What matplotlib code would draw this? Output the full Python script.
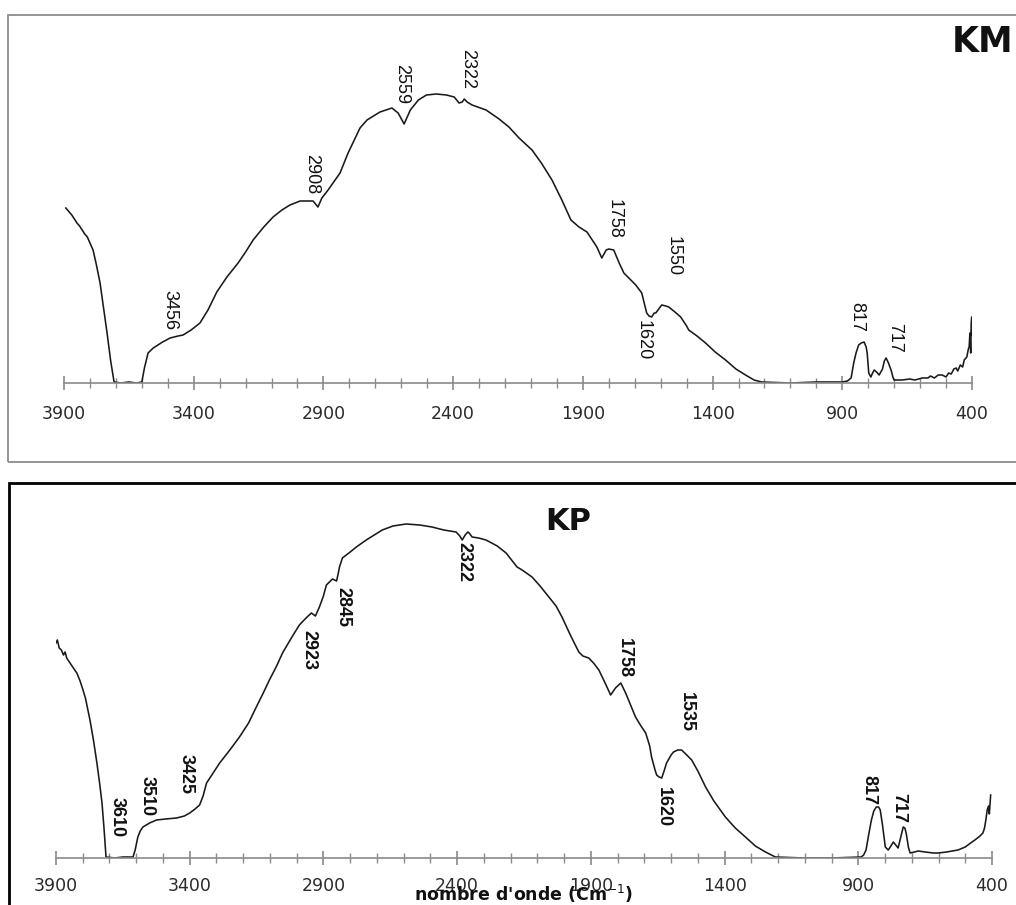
import matplotlib
matplotlib.use("Agg")
import matplotlib.pyplot as plt
from matplotlib.patches import Rectangle
from matplotlib.ticker import MultipleLocator

# ---- KM spectrum (wavenumber in cm-1, transmittance in arbitrary units) ----
km_wavenumber = [
    3893, 3880, 3870, 3860, 3850, 3840, 3830, 3820, 3810, 3800, 3788, 3775, 3761,
    3748, 3734, 3720, 3707, 3680, 3650, 3620, 3600, 3590, 3576, 3556, 3520, 3491,
    3460, 3441, 3410, 3376, 3345, 3311, 3272, 3229, 3200, 3171, 3130, 3094, 3060,
    3029, 2990, 2940, 2921, 2906, 2882, 2855, 2836, 2805, 2759, 2732, 2682, 2636,
    2612, 2589, 2565, 2534, 2503, 2465, 2426, 2396, 2377, 2365, 2357, 2346, 2327,
    2273, 2223, 2185, 2146, 2096, 2060, 2019, 1981, 1946, 1915, 1884, 1846, 1827,
    1810, 1800, 1781, 1760, 1742, 1715, 1696, 1673, 1654, 1645, 1635, 1625, 1619,
    1596, 1580, 1569, 1545, 1523, 1500, 1492, 1460, 1427, 1390, 1350, 1310, 1273,
    1240, 1211, 1100, 1000, 900, 880, 866, 856, 847, 837, 827, 816, 808, 804, 798,
    790, 783, 777, 768, 758, 745, 738, 731, 722, 712, 705, 700, 669, 640, 620, 592,
    570, 560, 545, 530, 515, 500, 490, 480, 470, 461, 455, 445, 436, 430, 420, 414,
    411, 408, 405, 403, 401, 400,
]
km_signal = [
    175, 171, 168, 164, 160, 157, 153, 149, 146, 140, 133, 118, 100,
    76, 50, 22, 1, 0, 1, 0, 1, 15, 30, 35, 41, 45,
    47, 48, 53, 60, 73, 91, 106, 120, 131, 143, 156, 166, 173,
    178, 182, 182, 176, 185, 193, 203, 210, 230, 255, 263, 271, 275,
    270, 259, 273, 283, 288, 289, 288, 286, 280, 281, 284, 281, 278,
    273, 264, 256, 245, 233, 220, 203, 183, 163, 156, 151, 136, 125,
    133, 134, 133, 120, 110, 103, 98, 90, 70, 67, 66, 70, 70,
    78, 77, 76, 71, 66, 57, 53, 47, 40, 31, 23, 14, 8,
    3, 1, 0, 1, 1, 2, 5, 20, 30, 38, 40, 41, 36, 30, 10,
    6, 10, 13, 11, 8, 14, 22, 25, 20, 13, 6, 3, 3, 4, 3, 5,
    5, 7, 5, 8, 8, 6, 10, 9, 14, 15, 12, 18, 16, 23, 26, 34,
    36, 50, 30, 60, 66, 48,
]
km_peaks = ["3456", "2908", "2559", "2322", "1758", "1550", "1620", "817", "717"]
km_peak_pos = [(3491, 73), (2944, 209), (2597, 299), (2346, 314), (1780, 164),
               (1552, 127), (1668, 43), (843, 66), (700, 45)]

# ---- KP spectrum ----
kp_wavenumber = [
    3900, 3895, 3888, 3880, 3872, 3866, 3860, 3850, 3840, 3830, 3822, 3810, 3799,
    3790, 3773, 3760, 3747, 3737, 3728, 3720, 3713, 3680, 3650, 3612, 3604, 3594,
    3585, 3575, 3550, 3524, 3490, 3449, 3420, 3400, 3380, 3363, 3350, 3337, 3310,
    3288, 3250, 3214, 3180, 3151, 3125, 3102, 3075, 3053, 3020, 2990, 2965, 2945,
    2930, 2915, 2900, 2889, 2866, 2851, 2845, 2840, 2829, 2800, 2777, 2740, 2680,
    2640, 2591, 2540, 2494, 2450, 2404, 2390, 2381, 2370, 2360, 2355, 2344, 2320,
    2292, 2250, 2217, 2176, 2157, 2120, 2090, 2057, 2030, 2008, 1975, 1945, 1930,
    1908, 1890, 1870, 1845, 1826, 1808, 1788, 1770, 1750, 1733, 1715, 1695, 1680,
    1673, 1660, 1654, 1645, 1635, 1625, 1617, 1600, 1591, 1575, 1561, 1545, 1523,
    1500, 1471, 1440, 1397, 1360, 1322, 1285, 1247, 1210, 1100, 1000, 889, 880,
    871, 860, 851, 842, 833, 824, 818, 810, 799, 788, 778, 769, 760, 751, 742,
    732, 726, 721, 712, 706, 690, 676, 650, 620, 601, 570, 527, 500, 480, 464,
    445, 434, 428, 423, 418, 413, 410, 407, 405,
]
kp_signal = [
    215, 218, 210, 208, 203, 206, 200, 196, 192, 188, 185, 177, 168,
    160, 138, 118, 95, 75, 55, 28, 1, 0, 1, 1, 8, 21,
    27, 31, 35, 38, 39, 40, 42, 45, 49, 53, 62, 75, 86,
    95, 108, 121, 135, 151, 165, 178, 192, 205, 220, 233, 240, 245,
    242, 251, 262, 273, 279, 277, 284, 291, 300, 306, 311, 318, 328,
    332, 334, 333, 331, 328, 326, 322, 318, 323, 326, 325, 321, 320,
    318, 312, 305, 291, 288, 281, 272, 261, 252, 241, 222, 206, 202,
    200, 195, 188, 174, 163, 170, 175, 165, 152, 141, 133, 125, 112,
    101, 88, 83, 81, 80, 88, 95, 103, 106, 108, 108, 104, 98,
    87, 71, 57, 41, 30, 21, 12, 6, 1, 0, 0, 1, 3,
    8, 25, 38, 47, 51, 51, 48, 34, 11, 8, 12, 16, 13, 10, 20,
    31, 30, 25, 10, 5, 6, 7, 6, 5, 5, 6, 8, 11, 15, 18,
    22, 25, 30, 38, 48, 52, 44, 55, 63,
]
kp_peaks = ["3610", "3510", "3425", "2923", "2845", "2322", "1758", "1535",
            "1620", "817", "717"]
kp_peak_pos = [(3672, 41), (3560, 62), (3414, 84), (2954, 208), (2827, 251),
               (2375, 296), (1776, 200), (1541, 146), (1627, 51), (860, 68),
               (748, 50)]

tick_values = [3900, 3400, 2900, 2400, 1900, 1400, 900, 400]

W, H = 1016, 905
fig = plt.figure(figsize=(W / 100, H / 100), dpi=100)
fig.patch.set_facecolor("white")


def px_rect(x0, y0, x1, y1):
    """Figure-fraction rectangle from pixel corners (origin top-left)."""
    return [x0 / W, 1 - y1 / H, (x1 - x0) / W, (y1 - y0) / H]


# panel frames
l, b, w, h = px_rect(8, 15, 1040, 462)
fig.patches.append(Rectangle((l, b), w, h, transform=fig.transFigure,
                             fill=False, edgecolor="#8c8c8c", linewidth=1.3,
                             clip_on=False))
l, b, w, h = px_rect(9, 483, 1040, 930)
fig.patches.append(Rectangle((l, b), w, h, transform=fig.transFigure,
                             fill=False, edgecolor="black", linewidth=2.0,
                             clip_on=False))


def spectrum_axes(rect, ytop, wn, sig, peaks, peak_pos, bold_labels, pad):
    ax = fig.add_axes(rect)
    ax.set_facecolor("none")
    ax.plot(wn, sig, color="#1a1a1a", linewidth=1.15, solid_joinstyle="round")
    ax.set_xlim(3900, 400)
    ax.set_ylim(0, ytop)
    for s in ("left", "right", "top"):
        ax.spines[s].set_visible(False)
    ax.spines["bottom"].set_color("#8a8a8a")
    ax.spines["bottom"].set_linewidth(1.2)
    ax.set_yticks([])
    ax.set_xticks(tick_values)
    ax.set_xticklabels([str(v) for v in tick_values])
    ax.xaxis.set_minor_locator(MultipleLocator(100))
    ax.tick_params(axis="x", which="major", direction="inout", length=10,
                   width=1.2, color="#8a8a8a", pad=pad, labelsize=12.5,
                   labelcolor="#2b2b2b")
    ax.tick_params(axis="x", which="minor", direction="inout", length=7,
                   width=1.0, color="#8a8a8a")
    for lab in ax.get_xticklabels():
        lab.set_fontfamily("DejaVu Sans")
    for txt, (x, y) in zip(peaks, peak_pos):
        ax.text(x, y, txt, rotation=270, ha="center", va="center",
                fontsize=13, family="Liberation Sans",
                fontweight="bold" if bold_labels else "normal",
                color="#111111")
    return ax


ax_km = spectrum_axes(px_rect(64, 30, 972, 383), 353, km_wavenumber, km_signal,
                      km_peaks, km_peak_pos, False, 11)
ax_kp = spectrum_axes(px_rect(56, 490, 992, 858), 368, kp_wavenumber, kp_signal,
                      kp_peaks, kp_peak_pos, True, 9)

fig.text(952 / W, 1 - 42 / H, "KM", ha="left", va="center", fontsize=25,
         fontweight="bold", family="DejaVu Sans", color="#111111")
fig.text(545 / W, 1 - 522 / H, "KP", ha="left", va="center", fontsize=22,
         fontweight="bold", family="DejaVu Sans", color="#111111")
fig.text(524 / W, 1 - 894 / H, "nombre d'onde (Cm$^{-1}$)", ha="center",
         va="center", fontsize=12.5, fontweight="bold", family="DejaVu Sans",
         color="#111111")

fig.savefig("out.png", dpi=100)
